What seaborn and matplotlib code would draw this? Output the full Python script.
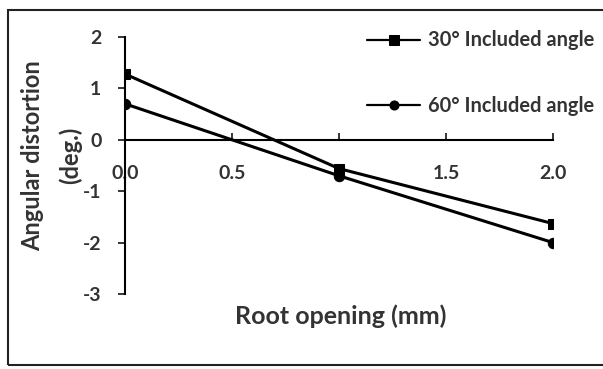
import matplotlib
matplotlib.use("Agg")
import matplotlib.pyplot as plt
import seaborn as sns
import pandas as pd
from matplotlib.patches import Rectangle

root_opening = [0.0, 1.0, 2.0]
angle_30 = [1.28, -0.56, -1.63]
angle_60 = [0.70, -0.70, -2.00]
series_names = ["30° Included angle", "60° Included angle"]
x_ticks = [0.0, 0.5, 1.0, 1.5, 2.0]
x_tick_labels = ["0.0", "0.5", "", "1.5", "2.0"]
y_ticks = [-3, -2, -1, 0, 1, 2]

df = pd.DataFrame({
    "x": root_opening * 2,
    "y": angle_30 + angle_60,
    "series": [series_names[0]] * 3 + [series_names[1]] * 3,
})

sns.set_style("white")
plt.rcParams["font.family"] = ["Lato", "DejaVu Sans"]
plt.rcParams["axes.unicode_minus"] = False
txt = "#333333"

fig = plt.figure(figsize=(6.03, 3.69), dpi=100)
ax = fig.add_axes([125/603, 1-294/369, 428/603, 257/369])

sns.lineplot(data=df, x="x", y="y", style="series", markers=["s", "o"],
             dashes=False, color="black", linewidth=2.2, ax=ax,
             markersize=7.5, markeredgecolor="black", legend=True)

ax.set_xlim(0, 2)
ax.set_ylim(-3, 2)
for s in ["top", "right"]:
    ax.spines[s].set_visible(False)
ax.spines["bottom"].set_position(("data", 0))
ax.spines["bottom"].set_color("black")
ax.spines["left"].set_color("black")
ax.spines["bottom"].set_linewidth(1.5)
ax.spines["left"].set_linewidth(1.5)

ax.set_xticks(x_ticks)
ax.set_xticklabels(x_tick_labels)
ax.set_yticks(y_ticks)
ax.tick_params(axis="x", direction="in", length=5, width=1.3, pad=18,
               labelsize=14, labelcolor=txt, bottom=True)
ax.tick_params(axis="y", direction="out", length=5, width=1.3, pad=12,
               labelsize=14, labelcolor=txt, left=True)
for lab in ax.get_xticklabels() + ax.get_yticklabels():
    lab.set_fontweight("bold")

ax.set_xlabel("Root opening (mm)", fontsize=18, color=txt, fontweight="bold")
ax.xaxis.set_label_coords(0.505, -0.04)
ax.set_ylabel("Angular distortion\n(deg.)", fontsize=17, color=txt,
              fontweight="bold", linespacing=1.75)
ax.yaxis.set_label_coords(-0.10, 0.54)

handles, labels = ax.get_legend_handles_labels()
leg = ax.legend(handles, labels, loc="upper left", bbox_to_anchor=(349/603, 1-12.5/369),
                bbox_transform=fig.transFigure, frameon=False,
                labelspacing=2.25, handlelength=2.65, handletextpad=0.4,
                prop={"weight": "bold", "size": 14.4})
for t in leg.get_texts():
    t.set_color(txt)
for h in leg.legend_handles:
    h.set_linewidth(1.6)
    h.set_markersize(6.5)

fig.patches.append(Rectangle((8/603, 4/369), 1.2, 1-14/369, transform=fig.transFigure,
                             fill=False, edgecolor="#222222", linewidth=1.5))

fig.savefig("out.png", dpi=100)
